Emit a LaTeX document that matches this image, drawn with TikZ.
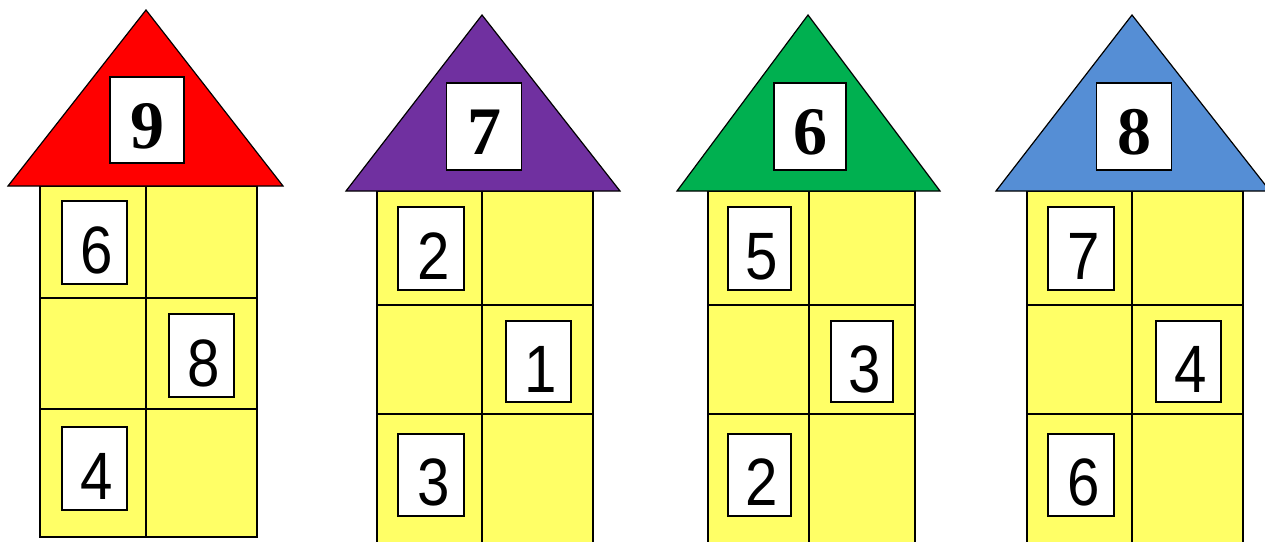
\documentclass[tikz,border=0pt]{standalone}
\usepackage{fontspec}
\newfontfamily\cellfont[FakeStretch=0.87]{Liberation Sans}
\newfontfamily\rooffont{Liberation Serif}
\definecolor{wallyellow}{HTML}{FFFF66}
\definecolor{roofred}{HTML}{FF0000}
\definecolor{roofpurple}{HTML}{7030A0}
\definecolor{roofgreen}{HTML}{00B050}
\definecolor{roofblue}{HTML}{558ED5}

\begin{document}
\begin{tikzpicture}[x=1pt, y=-1pt,
    wall/.style={draw, line width=1.5pt, fill=wallyellow},
    wallline/.style={line width=1.5pt},
    roof/.style={draw, line width=1.2pt, line join=miter},
    cellnum/.style={draw, fill=white, line width=1.5pt, minimum width=65pt, minimum height=83pt, inner sep=0pt, text height=61pt, text depth=0pt, execute at begin node=\hspace*{5pt}, font=\cellfont\fontsize{67}{67}\selectfont},
    roofnum/.style={draw, fill=white, line width=1.5pt, minimum width=75pt, minimum height=87pt, inner sep=0pt, text height=56pt, text depth=0pt, font=\rooffont\bfseries\fontsize{68}{68}\selectfont}
]
\clip (0,0) rectangle (1265,541);

% house 1
\draw[wall] (40,186) rectangle (257,537);
\draw[wallline] (146,186) -- (146,537);
\draw[wallline] (40,298) -- (257,298);
\draw[wallline] (40,409) -- (257,409);
\draw[roof, fill=roofred] (8,186) -- (146,10) -- (283,186) -- cycle;
\node[roofnum, minimum width=74pt, minimum height=86pt] (h1roof) at (147,120) {9};
\node[cellnum] (h1a) at (94.5,242.5) {6};
\node[cellnum] (h1b) at (201.5,355.5) {8};
\node[cellnum] (h1c) at (94.5,468.5) {4};

% house 2
\draw[wall] (377,191) rectangle (593,548);
\draw[wallline] (482,191) -- (482,548);
\draw[wallline] (377,305) -- (593,305);
\draw[wallline] (377,414) -- (593,414);
\draw[roof, fill=roofpurple] (346,191) -- (482,15) -- (620,191) -- cycle;
\node[roofnum] (h2roof) at (484,126.5) {7};
\node[cellnum, minimum width=66pt] (h2a) at (431,248.5) {2};
\node[cellnum, minimum height=81pt] (h2b) at (538.5,361.5) {1};
\node[cellnum, minimum width=66pt, minimum height=82pt] (h2c) at (431,475) {3};

% house 3
\draw[wall] (708,191) rectangle (915,548);
\draw[wallline] (809,191) -- (809,548);
\draw[wallline] (708,305) -- (915,305);
\draw[wallline] (708,414) -- (915,414);
\draw[roof, fill=roofgreen] (677,191) -- (808,15) -- (940,191) -- cycle;
\node[roofnum, minimum width=72pt] (h3roof) at (810,126.5) {6};
\node[cellnum, minimum width=63pt] (h3a) at (759.5,248.5) {5};
\node[cellnum, minimum width=62pt, minimum height=81pt] (h3b) at (862,361.5) {3};
\node[cellnum, minimum width=63pt, minimum height=82pt] (h3c) at (759.5,475) {2};

% house 4
\draw[wall] (1027,191) rectangle (1243,548);
\draw[wallline] (1132,191) -- (1132,548);
\draw[wallline] (1027,305) -- (1243,305);
\draw[wallline] (1027,414) -- (1243,414);
\draw[roof, fill=roofblue] (996,191) -- (1132,15) -- (1270,191) -- cycle;
\node[roofnum] (h4roof) at (1134,126.5) {8};
\node[cellnum, minimum width=66pt] (h4a) at (1081,248.5) {7};
\node[cellnum, minimum height=81pt] (h4b) at (1188.5,361.5) {4};
\node[cellnum, minimum width=66pt, minimum height=82pt] (h4c) at (1081,475) {6};
\end{tikzpicture}
\end{document}
